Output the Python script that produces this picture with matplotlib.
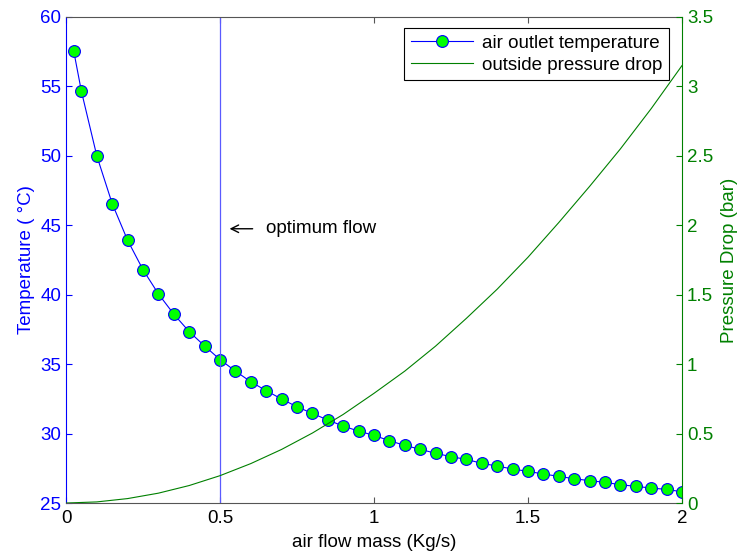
import numpy as np
import matplotlib.pyplot as plt

plt.rcParams["font.family"] = ["Liberation Sans", "DejaVu Sans"]
plt.rcParams["font.size"] = 13.5

# air flow mass (Kg/s) at the markers
flow = [0.025, 0.05, 0.1, 0.15, 0.2, 0.25, 0.3, 0.35, 0.4, 0.45, 0.5,
        0.55, 0.6, 0.65, 0.7, 0.75, 0.8, 0.85, 0.9, 0.95, 1.0,
        1.05, 1.1, 1.15, 1.2, 1.25, 1.3, 1.35, 1.4, 1.45, 1.5,
        1.55, 1.6, 1.65, 1.7, 1.75, 1.8, 1.85, 1.9, 1.95, 2.0]
# air outlet temperature (C)
temperature = [57.55, 54.65, 50.0, 46.56, 43.92, 41.8, 40.06, 38.6, 37.34, 36.31, 35.33,
               34.5, 33.73, 33.09, 32.49, 31.93, 31.45, 30.98, 30.54, 30.18, 29.87,
               29.49, 29.15, 28.87, 28.58, 28.34, 28.14, 27.86, 27.66, 27.45, 27.28,
               27.09, 26.92, 26.75, 26.61, 26.49, 26.32, 26.2, 26.08, 25.98, 25.81]

# outside pressure drop (bar)
flow_p = [0.0, 0.1, 0.2, 0.3, 0.4, 0.5, 0.6, 0.7, 0.8, 0.9, 1.0,
          1.1, 1.2, 1.3, 1.4, 1.5, 1.6, 1.7, 1.8, 1.9, 2.0]
pressure = [0.0, 0.008, 0.032, 0.071, 0.126, 0.197, 0.284, 0.386, 0.504, 0.638, 0.79,
            0.95, 1.13, 1.33, 1.54, 1.77, 2.02, 2.28, 2.55, 2.84, 3.15]

optimum = 0.5

blue = "#0000ff"
green = "#008000"

fig = plt.figure(figsize=(7.4, 5.57), dpi=100)
ax = fig.add_axes([0.0892, 0.0969, 0.8324, 0.8726])
ax2 = ax.twinx()

l1, = ax.plot(flow, temperature, "-o", color=blue, lw=0.8, ms=8.5,
              mfc="#00ff00", mec=blue, mew=0.8, label="air outlet temperature")
ax.axvline(optimum, color="#5a5aff", lw=0.9)
l2, = ax2.plot(flow_p, pressure, color=green, lw=0.8, label="outside pressure drop")

ax.set_xlim(0, 2)
ax.set_ylim(25, 60)
ax2.set_ylim(0, 3.5)
ax.set_xticks([0, 0.5, 1, 1.5, 2])
ax.set_xticklabels(["0", "0.5", "1", "1.5", "2"])
ax.set_yticks(np.arange(25, 61, 5))
ax2.set_yticks(np.arange(0, 3.51, 0.5))
ax2.set_yticklabels(["0", "0.5", "1", "1.5", "2", "2.5", "3", "3.5"])

ax.tick_params(axis="x", direction="in", top=True, length=4, colors="#555555",
               labelcolor="black", labelsize=13.5, pad=5)
ax.tick_params(axis="y", direction="in", length=4, colors=blue, labelsize=13.5)
ax2.tick_params(axis="y", direction="in", length=4, colors=green, labelsize=13.5)

for s in ("top", "bottom"):
    ax.spines[s].set_color("#555555")
ax.spines["left"].set_color(blue)
ax2.spines["left"].set_visible(False)
ax2.spines["right"].set_color(green)
ax2.spines["top"].set_visible(False)
ax2.spines["bottom"].set_visible(False)
ax.spines["right"].set_visible(False)

ax.set_xlabel("air flow mass (Kg/s)", fontsize=13.5, labelpad=5)
ax.set_ylabel("Temperature ( °C)", color=blue, fontsize=13.5, labelpad=4)
ax2.set_ylabel("Pressure Drop (bar)", color=green, fontsize=13.5, labelpad=6)

ax.annotate("", xy=(0.522, 44.75), xytext=(0.615, 44.75),
            arrowprops=dict(arrowstyle="->", color="black", lw=1.0))
ax.text(0.648, 44.75, "optimum flow", fontsize=13.5, va="center", ha="left")

leg = ax2.legend([l1, l2], ["air outlet temperature", "outside pressure drop"],
                 loc="upper right", bbox_to_anchor=(0.985, 0.985), fontsize=13.5,
                 fancybox=False, framealpha=1, edgecolor="black",
                 borderpad=0.35, labelspacing=0.25, handlelength=3.3,
                 handletextpad=0.5, borderaxespad=0.2)
leg.get_frame().set_linewidth(0.8)

fig.savefig("out.png", dpi=100)
